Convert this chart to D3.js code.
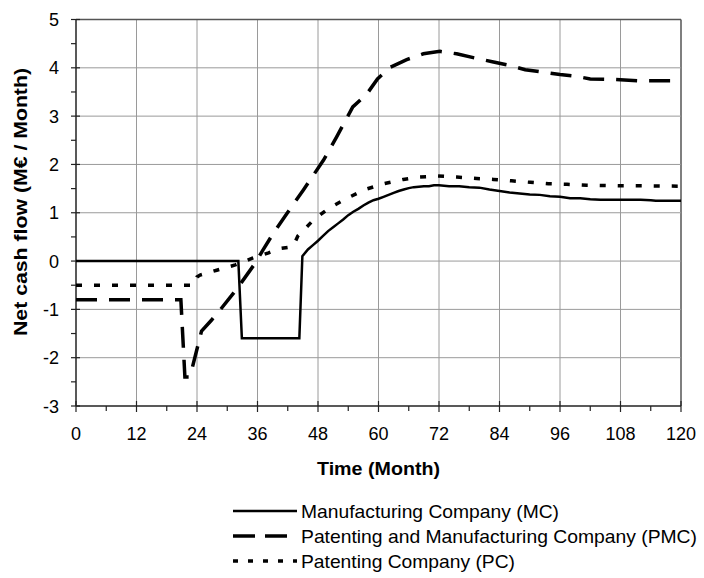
<!DOCTYPE html>
<html><head><meta charset="utf-8">
<script src="https://cdn.jsdelivr.net/npm/d3@7"></script>
<style>body{margin:0;background:#fff}svg text{font-family:Arial,"Liberation Sans",sans-serif;fill:#000}</style>
</head><body><svg id="c" width="704" height="578"></svg>
<script>
// ---- data ----
const xTicks = [0, 12, 24, 36, 48, 60, 72, 84, 96, 108, 120];
const yTicks = [-3, -2, -1, 0, 1, 2, 3, 4, 5];
const xTitle = "Time (Month)";
const yTitle = "Net cash flow (M€ / Month)";
const seriesNames = ["Manufacturing Company (MC)", "Patenting and Manufacturing Company (PMC)", "Patenting Company (PC)"];

const mcMonths = [0, 32.2, 32.9, 44.3, 44.9, 46, 47, 48, 49, 50, 51, 52, 53, 54, 55, 56, 57, 58, 59, 60, 61, 62, 63, 64, 65, 66, 67, 68, 69, 70, 71, 72, 74, 76, 78, 80, 82, 84, 86, 88, 90, 92, 94, 96, 98, 100, 102, 104, 106, 108, 110, 112, 114, 115, 120];
const mcValues = [0, 0, -1.6, -1.6, 0.1, 0.24, 0.33, 0.42, 0.52, 0.62, 0.7, 0.78, 0.86, 0.95, 1.02, 1.08, 1.15, 1.21, 1.26, 1.29, 1.33, 1.37, 1.41, 1.45, 1.48, 1.51, 1.53, 1.54, 1.55, 1.55, 1.57, 1.57, 1.55, 1.55, 1.53, 1.52, 1.48, 1.45, 1.42, 1.4, 1.38, 1.37, 1.34, 1.33, 1.3, 1.3, 1.28, 1.27, 1.27, 1.27, 1.27, 1.27, 1.26, 1.25, 1.25];

const pmcMonths = [0, 20.8, 21.6, 22.6, 24.9, 26.9, 28.6, 31.2, 32.9, 35.5, 37.1, 39.1, 41.8, 45.1, 49.1, 51.7, 54.9, 57.7, 59.8, 62.3, 65.6, 68.9, 72.2, 75.5, 78.8, 82.8, 86.1, 89.1, 92.7, 96, 99.4, 102, 106.6, 111.9, 120];
const pmcValues = [-0.8, -0.8, -2.4, -2.4, -1.45, -1.22, -1.01, -0.67, -0.43, -0.05, 0.23, 0.57, 0.98, 1.47, 2.09, 2.57, 3.19, 3.46, 3.77, 4.01, 4.17, 4.29, 4.34, 4.29, 4.21, 4.12, 4.05, 3.96, 3.91, 3.86, 3.82, 3.77, 3.76, 3.73, 3.73];

const pcMonths = [0, 23.3, 24.0, 24.6, 27.9, 31.6, 35.0, 38.2, 40.5, 42.5, 43.1, 44.0, 47.1, 50.1, 53.4, 57.3, 61.0, 64.9, 68.2, 71.8, 75.5, 79.5, 82.8, 86.4, 90.1, 93.7, 97.4, 101.3, 107.9, 120];
const pcValues = [-0.5, -0.5, -0.33, -0.29, -0.19, -0.08, 0.06, 0.17, 0.26, 0.29, 0.31, 0.52, 0.85, 1.09, 1.28, 1.48, 1.6, 1.69, 1.74, 1.76, 1.74, 1.71, 1.69, 1.66, 1.63, 1.6, 1.59, 1.57, 1.56, 1.55];

// ---- chart ----
const svg = d3.select("#c");
const L = 76, R = 681, T = 19.5, B = 406;
const x = d3.scaleLinear().domain([0, 120]).range([L, R]);
const y = d3.scaleLinear().domain([-3, 5]).range([B, T]);

// gridlines
const g = svg.append("g");
g.selectAll("line.vx").data(xTicks.slice(1)).join("line")
  .attr("x1", d => x(d)).attr("x2", d => x(d)).attr("y1", T).attr("y2", B)
  .attr("stroke", d => d === 120 ? "#555" : "#9a9a9a").attr("stroke-width", d => d === 120 ? 1.5 : 1);
g.selectAll("line.hy").data(yTicks.slice(1)).join("line")
  .attr("y1", d => y(d)).attr("y2", d => y(d)).attr("x1", L).attr("x2", R)
  .attr("stroke", d => d === 5 ? "#555" : "#9a9a9a").attr("stroke-width", d => d === 5 ? 1.5 : 1);

// axes lines
svg.append("line").attr("x1", L).attr("x2", L).attr("y1", T).attr("y2", B).attr("stroke", "#222").attr("stroke-width", 1.5);
svg.append("line").attr("x1", L).attr("x2", R).attr("y1", B).attr("y2", B).attr("stroke", "#222").attr("stroke-width", 1.5);

// x ticks
const xMinor = d3.range(6, 120, 12);
svg.selectAll("line.xt").data(xTicks).join("line")
  .attr("x1", d => x(d)).attr("x2", d => x(d)).attr("y1", B - 5).attr("y2", B + 6)
  .attr("stroke", "#222").attr("stroke-width", 1.2);
svg.selectAll("line.xm").data(xMinor).join("line")
  .attr("x1", d => x(d)).attr("x2", d => x(d)).attr("y1", B).attr("y2", B + 5)
  .attr("stroke", "#222").attr("stroke-width", 1.2);
svg.selectAll("text.xl").data(xTicks).join("text")
  .attr("x", d => x(d)).attr("y", 440).attr("text-anchor", "middle")
  .attr("font-size", 18).text(d => d);

// y ticks
const yMinor = d3.range(-2.5, 5, 1);
svg.selectAll("line.yt").data(yTicks).join("line")
  .attr("x1", L - 5).attr("x2", L + 4).attr("y1", d => y(d)).attr("y2", d => y(d))
  .attr("stroke", "#222").attr("stroke-width", 1.2);
svg.selectAll("line.ym").data(yMinor).join("line")
  .attr("x1", L - 5).attr("x2", L).attr("y1", d => y(d)).attr("y2", d => y(d))
  .attr("stroke", "#222").attr("stroke-width", 1.2);
svg.selectAll("text.yl").data(yTicks).join("text")
  .attr("x", 59).attr("y", d => y(d) + 6.5).attr("text-anchor", "end")
  .attr("font-size", 18).text(d => d);

// titles
svg.append("text").attr("x", (L + R) / 2).attr("y", 475).attr("text-anchor", "middle")
  .attr("font-size", 19).attr("font-weight", "bold")
  .attr("textLength", 123).attr("lengthAdjust", "spacingAndGlyphs").text(xTitle);
svg.append("text").attr("transform", "translate(27," + 202 + ") rotate(-90)")
  .attr("text-anchor", "middle").attr("font-size", 18).attr("font-weight", "bold")
  .attr("textLength", 268).attr("lengthAdjust", "spacingAndGlyphs").text(yTitle);

// series
const line = d3.line().x(d => x(d[0])).y(d => y(d[1]));
const series = [
  { m: mcMonths, v: mcValues, dash: null, w: 2.5, ldash: null },
  { m: pmcMonths, v: pmcValues, dash: "21,12", w: 3.5, ldash: "22,10" },
  { m: pcMonths, v: pcValues, dash: "6,12", w: 3.5, ldash: "5,10" }
];
series.forEach(s => {
  const pts = s.m.map((mm, i) => [mm, s.v[i]]);
  svg.append("path").attr("d", line(pts)).attr("fill", "none").attr("stroke", "#000")
    .attr("stroke-width", s.w).attr("stroke-dasharray", s.dash).attr("stroke-linejoin", "miter");
});

// legend
const legY = [511, 536, 561];
const legW = [258, 396, 214];
series.forEach((s, i) => {
  svg.append("line").attr("x1", 233).attr("x2", 297).attr("y1", legY[i]).attr("y2", legY[i])
    .attr("stroke", "#000").attr("stroke-width", i === 0 ? 2.5 : 3.5).attr("stroke-dasharray", s.ldash);
  svg.append("text").attr("x", 301).attr("y", legY[i] + 6.5).attr("font-size", 18.5)
    .attr("textLength", legW[i]).attr("lengthAdjust", "spacingAndGlyphs").text(seriesNames[i]);
});
</script></body></html>
